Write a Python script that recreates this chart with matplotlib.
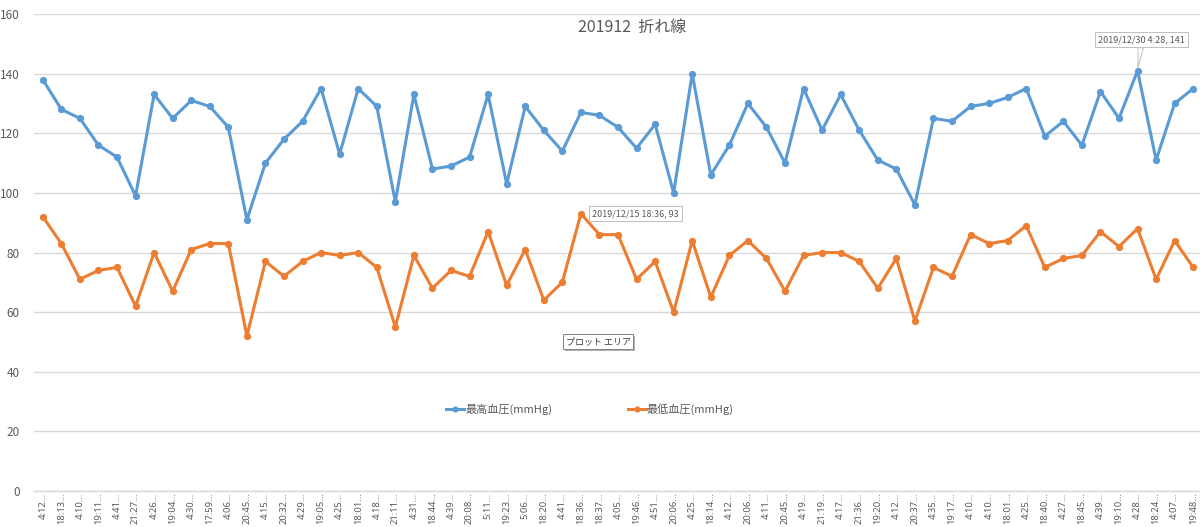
import matplotlib
matplotlib.use("Agg")
import matplotlib.pyplot as plt
from matplotlib import patheffects

plt.rcParams['font.family'] = ['Noto Sans CJK JP', 'DejaVu Sans']

# ---- データ ----
times = ["4:12", "18:13", "4:10", "19:11", "4:41", "21:27", "4:26", "19:04", "4:30", "17:59",
         "4:06", "20:45", "4:15", "20:32", "4:29", "19:05", "4:25", "18:01", "4:18", "21:11",
         "4:31", "18:44", "4:39", "20:08", "5:11", "19:23", "5:06", "18:20", "4:41", "18:36",
         "18:37", "4:05", "19:46", "4:51", "20:06", "4:25", "18:14", "4:12", "20:06", "4:11",
         "20:45", "4:19", "21:19", "4:17", "21:36", "19:20", "4:12", "20:37", "4:35", "19:17",
         "4:10", "4:10", "18:01", "4:25", "18:40", "4:27", "18:45", "4:39", "19:10", "4:28",
         "18:24", "4:07", "19:48"]

high = [138, 128, 125, 116, 112, 99, 133, 125, 131, 129,
        122, 91, 110, 118, 124, 135, 113, 135, 129, 97,
        133, 108, 109, 112, 133, 103, 129, 121, 114, 127,
        126, 122, 115, 123, 100, 140, 106, 116, 130, 122,
        110, 135, 121, 133, 121, 111, 108, 96, 125, 124,
        129, 130, 132, 135, 119, 124, 116, 134, 125, 141,
        111, 130, 135]

low = [92, 83, 71, 74, 75, 62, 80, 67, 81, 83,
       83, 52, 77, 72, 77, 80, 79, 80, 75, 55,
       79, 68, 74, 72, 87, 69, 81, 64, 70, 93,
       86, 86, 71, 77, 60, 84, 65, 79, 84, 78,
       67, 79, 80, 80, 77, 68, 78, 57, 75, 72,
       86, 83, 84, 89, 75, 78, 79, 87, 82, 88,
       71, 84, 75]

yticks = [0, 20, 40, 60, 80, 100, 120, 140, 160]

title = "201912  折れ線"
label_high = "最高血圧(mmHg)"
label_low = "最低血圧(mmHg)"

# ---- 図 ----
W, H = 1200, 527
fig = plt.figure(figsize=(12, 5.27), dpi=100)

left = 33.5 / W
right = 1202.5 / W
bottom = (H - 491) / H
top = (H - 14) / H
ax = fig.add_axes([left, bottom, right - left, top - bottom])

gray = '#595959'
grid = '#d9d9d9'
blue = '#5b9bd5'
orange = '#ed7d31'

x = list(range(len(times)))
l1, = ax.plot(x, high, color=blue, lw=2.2, marker='o', ms=4.2, zorder=3)
l2, = ax.plot(x, low, color=orange, lw=2.2, marker='o', ms=4.2, zorder=3)

ax.set_xlim(-0.5, len(times) - 0.5)
ax.set_ylim(0, 160)
ax.set_yticks(yticks)
ax.set_xticks(x)
ax.set_xticklabels([t + "..." for t in times], rotation=90, fontsize=6.8, color=gray,
                   family='Noto Sans')
ax.tick_params(axis='y', length=0, pad=10, labelsize=8.5, labelcolor=gray)
ax.tick_params(axis='x', length=0, pad=1)

ax.grid(axis='y', color=grid, lw=1)
ax.set_axisbelow(True)
for s in ['top', 'right', 'left']:
    ax.spines[s].set_visible(False)
ax.spines['bottom'].set_color(grid)
ax.spines['bottom'].set_linewidth(1)

# タイトル
fig.text(632 / W, 1 - 27 / H, title, ha='center', va='center', fontsize=11.5, color=gray)

# 凡例
fig.legend([l1, l2], [label_high, label_low], loc='center',
           bbox_to_anchor=(590 / W, 1 - 409 / H), ncol=2, frameon=False,
           fontsize=8, labelcolor=gray, handlelength=1.6, handletextpad=0.1,
           columnspacing=6.8, markerscale=0.8)

# データ吹き出し
box = dict(boxstyle='square,pad=0.35', fc='white', ec='#bfbfbf', lw=0.7)
wedge = dict(arrowstyle='wedge,tail_width=0.6', fc='white', ec='#bfbfbf', lw=0.7, shrinkA=0, shrinkB=2)

i_low = low.index(max(low))
ax.annotate(f"2019/12/15 {times[i_low]}, {low[i_low]}", xy=(i_low, low[i_low]),
            xytext=(8, 0), textcoords='offset points', ha='left', va='center',
            fontsize=6.5, color=gray, bbox=box, zorder=5)

i_high = high.index(max(high))
ax.annotate(f"2019/12/30 {times[i_high]}, {high[i_high]}", xy=(i_high, high[i_high]),
            xytext=(3, 19), textcoords='offset points', ha='center', va='bottom',
            fontsize=6.5, color=gray, bbox=box, arrowprops=wedge, zorder=5)

# プロット エリア ツールチップ
tip = fig.text(598 / W, 1 - 341.5 / H, "プロット エリア", ha='center', va='center',
               fontsize=6.5, color='#404040',
               bbox=dict(boxstyle='square,pad=0.3', fc='white', ec='#808080', lw=0.7))
tip.get_bbox_patch().set_path_effects(
    [patheffects.SimplePatchShadow(offset=(1.5, -1.5), shadow_rgbFace='#a0a0a0', alpha=0.8),
     patheffects.Normal()])

fig.savefig("out.png", dpi=100)
